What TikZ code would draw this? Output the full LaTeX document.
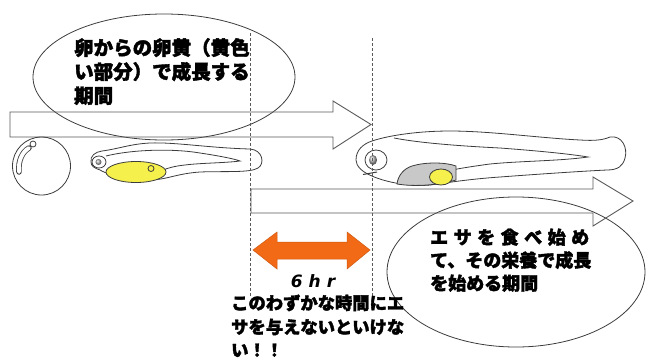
\documentclass[tikz,border=0pt]{standalone}
\usepackage{fontspec}
\newfontfamily\jp{Noto Sans CJK JP}[BoldFeatures={FakeBold=2}]
\newfontfamily\latinbold{DejaVu Sans}[BoldFeatures={FakeBold=1.5}]
\definecolor{yolk}{RGB}{245,240,75}
\definecolor{arroworange}{RGB}{242,106,22}
\definecolor{gutgray}{RGB}{200,200,200}
\definecolor{inkline}{RGB}{60,60,60}
\tikzset{
  outline/.style={draw=inkline, line width=0.8pt},
  bigarrow/.style={draw=inkline!85, line width=0.9pt, fill=none},
  bubble/.style={draw=inkline, line width=0.8pt, fill=none},
  guide/.style={draw=gray!70!black, line width=0.8pt, dash pattern=on 3pt off 2pt},
  jplabel/.style={inner sep=0pt, anchor=base west, font=\jp\bfseries},
}
\begin{document}
\begin{tikzpicture}[x=1pt, y=-1pt]
\useasboundingbox (0,0) rectangle (651,362);

% speech bubbles
\draw[bubble] (164,77) ellipse [x radius=131, y radius=63];
\draw[bubble] (516,272) ellipse [x radius=129, y radius=75];

% period arrows
\draw[bigarrow] (10,112) -- (333,112) -- (333,101) -- (371,124.5) -- (333,149) -- (333,137) -- (10,137) -- cycle;
\draw[bigarrow] (251,189) -- (593,189) -- (593,177) -- (633,201) -- (593,226) -- (593,213) -- (251,213) -- cycle;

% egg
\draw[outline] (41.5,166) circle [radius=29];
\draw[inkline, line width=5.5pt, line cap=round] (29,148) .. controls (22,152) and (18,161) .. (19,172);
\draw[white, line width=3.9pt, line cap=round] (29,148) .. controls (22,152) and (18,161) .. (19,172);
\draw[outline] (33,144) circle [radius=3];

% hatched larva with yolk sac
\draw[outline, fill=white] (91,162) .. controls (90,156) and (95,152) .. (102,151)
  .. controls (118,149) and (130,144) .. (150,143)
  .. controls (175,142) and (210,148) .. (250,149)
  .. controls (263,150) and (265,164) .. (258,168)
  .. controls (250,173) and (225,171) .. (200,172)
  .. controls (185,173) and (175,176) .. (166,178)
  .. controls (140,184) and (110,176) .. (100,170)
  .. controls (94,168) and (91,166) .. cycle;
\draw[outline] (106,156) .. controls (130,150) and (170,148) .. (200,153)
  .. controls (220,156) and (235,159) .. (240,161)
  .. controls (225,163) and (200,163) .. (185,165)
  .. controls (175,166) and (168,168) .. (163,170);
\draw[outline, fill=white] (99,162) ellipse [x radius=7, y radius=6];
\shade[ball color=gray!60] (98.5,162) circle [radius=3];
\draw[outline, fill=yolk] (136,172) ellipse [x radius=30, y radius=10.5];
\draw[outline] (151,168.5) circle [radius=3];

% feeding larva
\draw[outline, fill=white] (356,160) .. controls (356,150) and (363,144) .. (372,141)
  .. controls (390,135) and (420,131) .. (450,131)
  .. controls (490,131) and (540,138) .. (580,140)
  .. controls (595,141) and (603,140) .. (610,137)
  .. controls (622,135) and (628,148) .. (625,158)
  .. controls (623,166) and (618,170) .. (607,170)
  .. controls (585,171) and (540,174) .. (500,177)
  .. controls (470,179) and (445,183) .. (430,185)
  .. controls (410,187) and (385,182) .. (372,176)
  .. controls (362,172) and (356,166) .. cycle;
\draw[outline] (394,138) .. controls (420,143) and (460,146) .. (500,148)
  .. controls (540,151) and (570,154) .. (588,157)
  .. controls (560,161) and (520,161) .. (490,164)
  .. controls (475,166) and (462,168) .. (452,170);
\draw[outline, fill=gutgray] (397,184) .. controls (398,176) and (403,169) .. (412,166)
  .. controls (425,162) and (445,162) .. (456,166) -- (456,180)
  .. controls (440,185) and (415,187) .. cycle;
\draw[outline, fill=yolk] (441,177) ellipse [x radius=11.5, y radius=8];
\draw[outline] (376,160) ellipse [x radius=11, y radius=10];
\shade[ball color=gray!60] (373,160) ellipse [x radius=4, y radius=5];
\draw[inkline, line width=1pt] (363,174.5) -- (377,172);

% window markers
\coordinate (gA) at (250,33);
\coordinate (gB) at (250,296);
\coordinate (gC) at (372,38);
\coordinate (gD) at (372,296);
\draw[guide] (gA) -- (gB);
\draw[guide] (gC) -- (gD);

% six-hour span
\fill[arroworange, draw=arroworange!85!black, line width=0.5pt]
  (253,250) -- (277,232) -- (277,242) -- (347,242) -- (347,232) -- (370,250)
  -- (347,269) -- (347,259) -- (277,259) -- (277,269) -- cycle;
\node[inner sep=0pt, anchor=base] (hr) at (313,287)
  {\latinbold\bfseries\itshape\fontsize{17}{17}\selectfont 6\hspace{6pt}h\hspace{6pt}r};

% labels
\node[jplabel] (t1) at (74,55) {\fontsize{19.5}{19.5}\selectfont 卵からの卵黄（黄色};
\node[jplabel] (t2) at (74,79) {\fontsize{19.5}{19.5}\selectfont い部分）で成長する};
\node[jplabel] (t3) at (74,103) {\fontsize{19.5}{19.5}\selectfont 期間};

\node[jplabel] (u1) at (430,244) {\fontsize{18}{18}\selectfont エ\hspace{5.5pt}サ\hspace{5.5pt}を\hspace{5.5pt}食\hspace{5.5pt}べ\hspace{5.5pt}始\hspace{5.5pt}め};
\node[jplabel] (u2) at (430,267) {\fontsize{18}{18}\selectfont て、その栄養で成長};
\node[jplabel] (u3) at (430,290) {\fontsize{18}{18}\selectfont を始める期間};

\node[jplabel] (v1) at (231,309.5) {\fontsize{17.3}{17.3}\selectfont このわずかな時間にエ};
\node[jplabel] (v2) at (231,333.5) {\fontsize{17.3}{17.3}\selectfont サを与えないといけな};
\node[jplabel] (v3) at (231,356.5) {\fontsize{17.3}{17.3}\selectfont い！！};
\end{tikzpicture}
\end{document}
